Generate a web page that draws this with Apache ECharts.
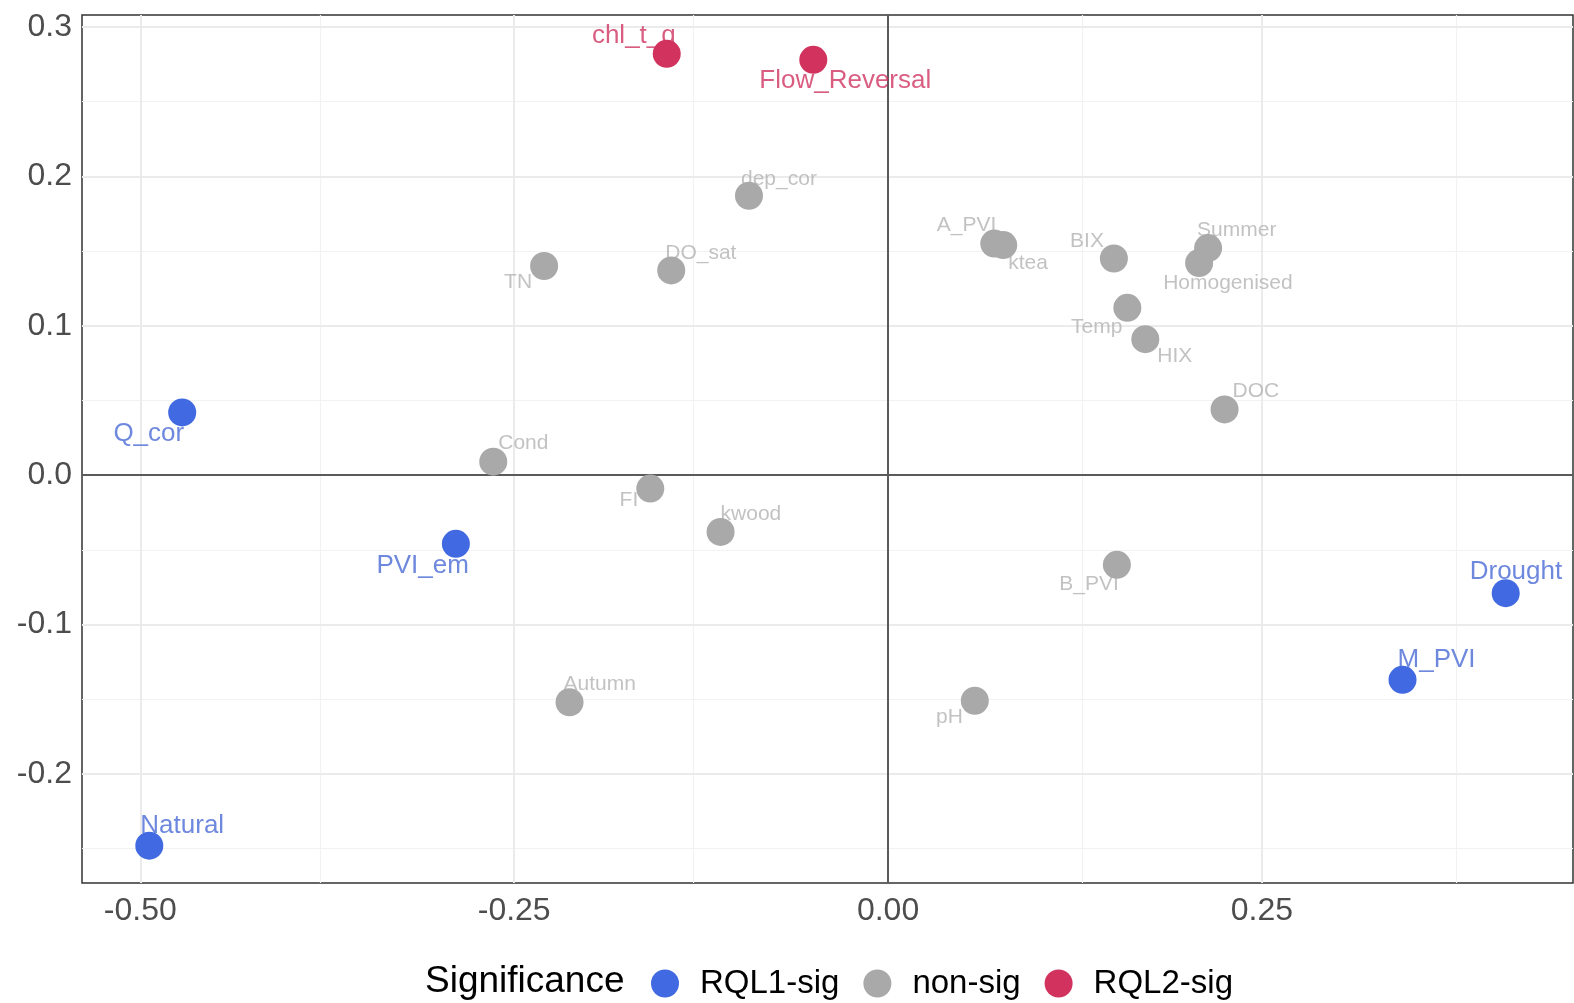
<!DOCTYPE html>
<html>
<head>
<meta charset="utf-8">
<script src="https://cdn.jsdelivr.net/npm/echarts@6/dist/echarts.min.js"></script>
<style>
  html, body { margin: 0; padding: 0; background: #ffffff; }
  #chart { width: 1574px; height: 1003px; }
</style>
</head>
<body>
<div id="chart"></div>
<script>
// Variable scores on the first two ordination axes
const names = ['chl_t_g', 'Flow_Reversal', 'dep_cor', 'A_PVI', 'ktea', 'BIX', 'Summer', 'Homogenised',
  'Temp', 'HIX', 'DOC', 'TN', 'DO_sat', 'Q_cor', 'Cond', 'FI', 'kwood', 'PVI_em', 'B_PVI',
  'Drought', 'M_PVI', 'Autumn', 'pH', 'Natural'];
const axis1 = [-0.148, -0.050, -0.093, 0.071, 0.077, 0.151, 0.214, 0.208,
  0.160, 0.172, 0.225, -0.230, -0.145, -0.472, -0.264, -0.159, -0.112, -0.289, 0.153,
  0.413, 0.344, -0.213, 0.058, -0.494];
const axis2 = [0.282, 0.278, 0.187, 0.155, 0.154, 0.145, 0.152, 0.142,
  0.112, 0.091, 0.044, 0.140, 0.137, 0.042, 0.009, -0.009, -0.038, -0.046, -0.060,
  -0.079, -0.137, -0.152, -0.151, -0.248];
const significance = ['RQL2-sig', 'RQL2-sig', 'non-sig', 'non-sig', 'non-sig', 'non-sig', 'non-sig', 'non-sig',
  'non-sig', 'non-sig', 'non-sig', 'non-sig', 'non-sig', 'RQL1-sig', 'non-sig', 'non-sig', 'non-sig', 'RQL1-sig', 'non-sig',
  'RQL1-sig', 'RQL1-sig', 'non-sig', 'non-sig', 'RQL1-sig'];

const groups = ['RQL1-sig', 'non-sig', 'RQL2-sig'];
const xTicks = [-0.5, -0.25, 0, 0.25];
const yTicks = [-0.2, -0.1, 0, 0.1, 0.2, 0.3];
const xMinor = [-0.375, -0.125, 0.125, 0.375];
const yMinor = [-0.25, -0.15, -0.05, 0.05, 0.15, 0.25];

// Styling
const pointColor = { 'RQL1-sig': '#4169E1', 'non-sig': '#A9A9A9', 'RQL2-sig': '#D2335E' };
const textColor = { 'RQL1-sig': '#4A6AD6', 'non-sig': '#B3B3B3', 'RQL2-sig': '#CF3562' };
const textSize = { 'RQL1-sig': 26, 'non-sig': 21, 'RQL2-sig': 26 };
const FONT = '"Liberation Sans", Arial, Helvetica, sans-serif';

// Text placement next to each point: [dx of anchored edge, dy of text centre, anchored edge]
const labelPlace = {
  chl_t_g: [9, -18, 'right'], Flow_Reversal: [-54, 21, 'left'], dep_cor: [-8, -17, 'left'],
  A_PVI: [2, -18, 'right'], ktea: [5, 18, 'left'], BIX: [-10, -17, 'right'],
  Summer: [-11, -18, 'left'], Homogenised: [-36, 20, 'left'], Temp: [-5, 19, 'right'],
  HIX: [12, 17, 'left'], DOC: [8, -18, 'left'], TN: [-12, 16, 'right'],
  DO_sat: [-6, -17, 'left'], Q_cor: [2, 21, 'right'], Cond: [5, -18, 'left'],
  FI: [-12, 12, 'right'], kwood: [0, -18, 'left'], PVI_em: [13, 22, 'right'],
  B_PVI: [2, 19, 'right'], Drought: [-36, -21, 'left'], M_PVI: [-5, -20, 'left'],
  Autumn: [-6, -18, 'left'], pH: [-12, 16, 'right'], Natural: [-9, -20, 'left']
};

const labelData = names.map((n, i) => {
  const p = labelPlace[n];
  const g = significance[i];
  return {
    name: n,
    value: [axis1[i], axis2[i]],
    label: {
      show: true,
      formatter: n,
      position: 'inside',
      offset: [p[0], p[1]],
      align: p[2],
      verticalAlign: 'middle',
      color: textColor[g],
      fontSize: textSize[g],
      fontFamily: FONT
    }
  };
});

const gridLine = (axis, v, w, c) => ({ [axis]: v, lineStyle: { color: c, width: w, type: 'solid' } });
const markLines = []
  .concat(xMinor.map(v => gridLine('xAxis', v, 1.2, '#F2F2F2')))
  .concat(yMinor.map(v => gridLine('yAxis', v, 1.2, '#F2F2F2')))
  .concat(xTicks.map(v => gridLine('xAxis', v, 2, '#EBEBEB')))
  .concat(yTicks.map(v => gridLine('yAxis', v, 2, '#EBEBEB')))
  .concat([gridLine('xAxis', 0, 2, '#5A5A5A'), gridLine('yAxis', 0, 2, '#5A5A5A')]);

const pointSeries = groups.map(g => ({
  name: g,
  type: 'scatter',
  z: 4,
  symbol: 'circle',
  symbolSize: 28,
  itemStyle: { color: pointColor[g], opacity: 1 },
  emphasis: { disabled: true },
  data: names.map((n, i) => significance[i] === g ? { name: n, value: [axis1[i], axis2[i]] } : null)
    .filter(d => d)
}));

const chart = echarts.init(document.getElementById('chart'), null, { renderer: 'canvas' });
chart.setOption({
  animation: false,
  backgroundColor: '#ffffff',
  textStyle: { fontFamily: FONT },
  grid: {
    left: 82, right: 1, top: 15, bottom: 120,
    show: true, borderColor: '#333333', borderWidth: 1.5, backgroundColor: 'transparent'
  },
  title: {
    text: 'Significance',
    left: 420, top: 958,
    textStyle: { fontSize: 37, fontWeight: 'normal', color: '#000000', fontFamily: FONT }
  },
  legend: {
    data: groups,
    left: 646, top: 962,
    orient: 'horizontal',
    icon: 'circle',
    itemWidth: 28, itemHeight: 28,
    itemGap: 24,
    selectedMode: false,
    textStyle: { fontSize: 33, color: '#000000', fontFamily: FONT, padding: [0, 0, 0, 16] }
  },
  xAxis: {
    type: 'value',
    min: -0.539, max: 0.458,
    axisLine: { show: false },
    splitLine: { show: false },
    axisTick: { show: true, customValues: xTicks, length: 6, lineStyle: { color: '#333333', width: 1.5 } },
    axisLabel: {
      customValues: xTicks, margin: 12,
      formatter: v => v.toFixed(2),
      fontSize: 32, color: '#4D4D4D', fontFamily: FONT
    }
  },
  yAxis: {
    type: 'value',
    min: -0.273, max: 0.308,
    axisLine: { show: false },
    splitLine: { show: false },
    axisTick: { show: true, customValues: yTicks, length: 6, lineStyle: { color: '#333333', width: 1.5 } },
    axisLabel: {
      customValues: yTicks, margin: 10,
      formatter: v => v.toFixed(1),
      fontSize: 32, color: '#4D4D4D', fontFamily: FONT
    }
  },
  series: [
    {
      name: 'labels',
      type: 'scatter',
      z: 3,
      symbolSize: 28,
      itemStyle: { color: 'transparent' },
      emphasis: { disabled: true },
      silent: true,
      data: labelData,
      markLine: {
        silent: true,
        z: 1,
        symbol: ['none', 'none'],
        label: { show: false },
        emphasis: { disabled: true },
        data: markLines
      }
    }
  ].concat(pointSeries)
});
</script>
</body>
</html>
